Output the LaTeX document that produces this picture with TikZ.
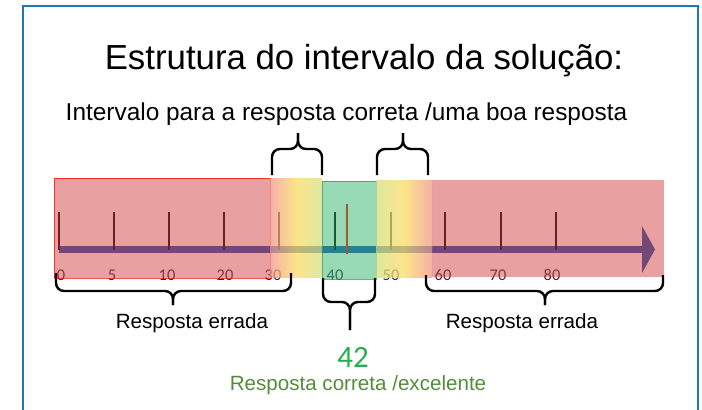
\documentclass[tikz,border=0pt]{standalone}
\usepackage{fontspec}
\setmainfont{Liberation Sans}
\newfontfamily\axisfont{Carlito}
\usetikzlibrary{positioning}
\definecolor{framecol}{RGB}{31,119,180}
\definecolor{wrongred}{RGB}{210,65,65}
\definecolor{rightgreen}{RGB}{50,180,110}
\definecolor{axiscol}{RGB}{20,80,170}
\definecolor{pinkzone}{RGB}{240,150,139}
\definecolor{yellowzone}{RGB}{251,219,99}
\definecolor{limezone}{RGB}{210,225,128}
\definecolor{fortytwo}{RGB}{34,177,76}
\definecolor{goodtext}{RGB}{84,140,58}
\definecolor{labelgray}{RGB}{45,45,45}
\tikzset{axistick/.style={line width=1pt,black}}
\tikzset{zone/.style={fill opacity=0.5,draw opacity=0.7,line width=0.5pt}}
\tikzset{halfzone/.style={fill opacity=0.75}}
\tikzset{bracket/.style={line width=1.2pt,rounded corners=4pt}}
\tikzset{numlabel/.style={anchor=base,inner sep=0pt,font=\axisfont\fontsize{8.2}{9}\selectfont,text=labelgray}}
\tikzset{caption/.style={anchor=base,inner sep=0pt,font=\fontsize{10.3}{12}\selectfont}}

\begin{document}
\begin{tikzpicture}[x=0.5pt,y=-0.5pt]
    \useasboundingbox (0,0) rectangle (702,409);
    \draw[framecol,line width=1pt] (23,430) -- (23,6) -- (698,6) -- (698,430);
    % titles
    \node[anchor=base,inner sep=0pt,font=\fontsize{17.4}{20}\selectfont] (title) at (364,69) {Estrutura do intervalo da solução:};
    \node[anchor=base,inner sep=0pt,font=\fontsize{12.2}{14}\selectfont] (subtitle) at (346.5,120) {Intervalo para a resposta correta /uma boa resposta};
    % number line
    \fill[axiscol] (59,246) rectangle (642,253);
    \fill[axiscol] (642,226) -- (655,249.5) -- (642,273) -- cycle;
    \foreach \x in {59,114,169,224,279,335,391,445,501,556}
      \draw[axistick] (\x,212) -- (\x,250);
    \draw[red,line width=0.8pt] (347,204) -- (347,254);
    \foreach \x/\v in {61/0,112/5,167/10,225/20,273/30,335/40,391/50,443/60,498/70,552/80}
      \node[numlabel] (n\v) at (\x,280) {\v};
    % zones
    \filldraw[zone,fill=wrongred,draw=red] (54,178) rectangle (270,278);
    \fill[zone,fill=wrongred] (432,180) rectangle (664,277);
    \filldraw[zone,fill=rightgreen,draw=rightgreen!80!black] (322,181) rectangle (376,279);
    \shade[halfzone,left color=pinkzone,right color=limezone,middle color=yellowzone] (270,178) rectangle (322,277);
    \shade[halfzone,left color=limezone,right color=pinkzone,middle color=yellowzone] (376,180) rectangle (432,277);
    % braces above
    \draw[bracket] (272,175) |- (298,149) -- (298,133);
    \draw[bracket] (322,175) |- (298,149) -- (298,133);
    \draw[bracket] (377,175) |- (403,149) -- (403,133);
    \draw[bracket] (428,175) |- (403,149) -- (403,133);
    % braces below
    \draw[bracket] (56,273) |- (173,291) -- (173,305);
    \draw[bracket] (291,273) |- (173,291) -- (173,305);
    \draw[bracket] (426,275) |- (545,291) -- (545,305);
    \draw[bracket] (663,275) |- (545,291) -- (545,305);
    \draw[bracket] (323,278) |- (350,302) -- (350,330);
    \draw[bracket] (375,278) |- (350,302) -- (350,330);
    % captions
    \node[caption] (wrongleft) at (192,328) {Resposta errada};
    \node[caption] (wrongright) at (522,328) {Resposta errada};
    \node[anchor=base,inner sep=0pt,font=\axisfont\fontsize{15.5}{17}\selectfont,text=fortytwo] (answer) at (353,367) {42};
    \node[caption,text=goodtext] (good) at (358,390) {Resposta correta /excelente};
  \end{tikzpicture}
\end{document}
